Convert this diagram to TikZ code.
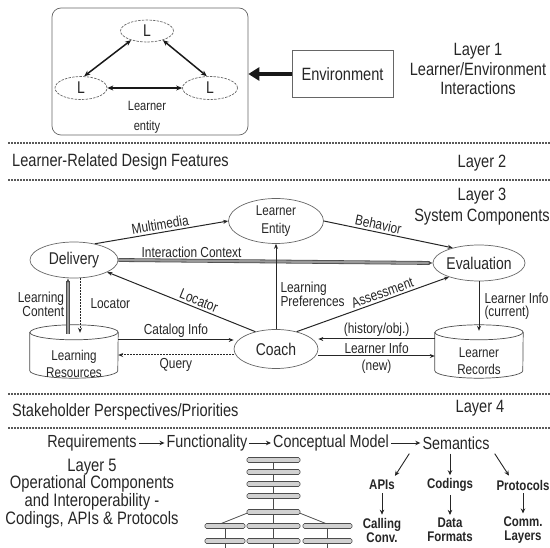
\documentclass[tikz,border=0pt]{standalone}
\usepackage{fontspec}
\setmainfont{Liberation Sans}[FakeStretch=0.82]
\usetikzlibrary{shapes.geometric,arrows.meta}
\newcommand\fsz[2]{\fontsize{#1}{#2}\selectfont}
\newcommand\drawcyl[1]{%
  \draw[draw=black!70, line width=0.7pt, fill=white]
    ([yshift=-7.5pt]#1.north west) -- ([yshift=7.5pt]#1.south west)
    arc[start angle=180, end angle=360, x radius=44pt, y radius=7.5pt]
    -- ([yshift=-7.5pt]#1.north east)
    arc[start angle=0, end angle=180, x radius=44pt, y radius=7.5pt] -- cycle;
  \draw[draw=black!70, line width=0.7pt]
    ([yshift=-7.5pt]#1.north west)
    arc[start angle=180, end angle=360, x radius=44pt, y radius=7.5pt];}
\begin{document}
\begin{tikzpicture}[x=1pt,y=-1pt,
  >={Stealth[length=5pt,width=4pt]},
  every node/.style={text=black!85},
  txt/.style={inner sep=0pt, align=center},
  big/.style={txt, font=\fsz{17.8}{20}},
  lbl/.style={txt, font=\fsz{14.5}{14}},
  ell/.style={ellipse, draw=black!60, line width=0.7pt, inner sep=0pt, align=center, font=\fsz{17}{19}},
  lell/.style={ell, dash pattern=on 2.5pt off 1.2pt},
  conn/.style={draw=black!85, line width=1pt},
  dconn/.style={conn, dash pattern=on 1.6pt off 1.4pt},
  gconn/.style={draw=black!70, line width=0.8pt, double=black!40, double distance=2.2pt},
  l1arr/.style={draw=black!90, line width=1.5pt, {Stealth[length=6pt,width=5pt]}-{Stealth[length=6pt,width=5pt]}},
  sepline/.style={draw=black!65, line width=1.6pt, dash pattern=on 1.5pt off 1.5pt},
  bar/.style={draw=black!70, fill=black!18, line width=0.6pt, rounded corners=1.5pt},
  bsm/.style={txt, font=\fsz{14}{14}\bfseries},
  seq/.style={txt, inner sep=2pt, font=\fsz{17.5}{20}},
  tarr/.style={draw=black!85, line width=0.9pt, ->, >={Stealth[length=5pt,width=4.5pt]}},
]
\useasboundingbox (0,0) rectangle (550,548);

% ---------------- Layer 1
\node[draw=black!60, line width=0.7pt, rounded corners=9pt, minimum width=196pt, minimum height=127pt] (l1box) at (150,71.5) {};
\node[lell, minimum width=53pt, minimum height=22pt] (Ltop) at (147,31) {L};
\node[lell, minimum width=52pt, minimum height=23pt] (Lleft) at (81,88) {L};
\node[lell, minimum width=55pt, minimum height=23pt] (Lright) at (210,88) {L};
\draw[l1arr] (Lleft.75) -- (Ltop.210);
\draw[l1arr] (Lright.105) -- (Ltop.330);
\draw[l1arr] (Lleft.east) -- (Lright.west);
\node[txt, font=\fsz{13.5}{19.5}] (lent) at (147,117.5) {Learner\\entity};
\node[draw=black!60, line width=0.7pt, minimum width=101pt, minimum height=47pt, font=\fsz{17.8}{20}] (env) at (342.5,74) {Environment};
\draw[draw=black!90, line width=4.5pt, -{Triangle[length=11pt,width=13pt]}] (env.west) -- (l1box.east |- env.west);
\node[big, font=\fsz{17.8}{19.5}] (l1txt) at (478,69) {Layer 1\\Learner/Environment\\Interactions};

% ---------------- Layer 2
\draw[sepline] (8,143) -- (550,143);
\node[big, anchor=west] (l2txt) at (12,162) {Learner-Related Design Features};
\node[big] (l2) at (482,163) {Layer 2};
\draw[sepline] (8,180) -- (550,180);

% ---------------- Layer 3
\node[big, font=\fsz{17.8}{21}] (l3) at (482,207) {Layer 3\\System Components};
\node[ell, minimum width=95pt, minimum height=45pt, font=\fsz{14.2}{18}] (entity) at (276,221) {Learner\\Entity};
\node[ell, minimum width=88pt, minimum height=36pt] (delivery) at (74,260) {Delivery};
\node[ell, minimum width=87pt, minimum height=36pt] (evaluation) at (479,263) {Evaluation};
\node[ell, minimum width=84pt, minimum height=39pt] (coach) at (276,349) {Coach};
\node[minimum width=88pt, minimum height=53pt, inner sep=0pt] (lres) at (74,351.5) {};
\node[minimum width=88pt, minimum height=53pt, inner sep=0pt] (lrec) at (479,351.5) {};
\drawcyl{lres}
\drawcyl{lrec}
\node[txt, font=\fsz{14.2}{17}] (lrest) at (74,363.5) {Learning\\Resources};
\node[txt, font=\fsz{14.2}{17}] (lrect) at (479,361.5) {Learner\\Records};

\draw[conn, ->] (delivery.38) -- node[lbl, sloped, above=2pt] {Multimedia} (entity.west);
\draw[conn, ->] (entity.east) -- node[lbl, sloped, above=2pt, pos=0.41] {Behavior} (evaluation.150);
\draw[gconn, ->] (delivery.east) -- node[lbl, above=2.5pt, pos=0.233] {Interaction Context} (evaluation.west);
\draw[conn, ->] (coach.north) -- node[lbl, right=4pt, pos=0.41, align=left, font=\fsz{14.5}{12.5}] {Learning\\Preferences} (entity.south);
\draw[conn, <-] (delivery.340) -- node[lbl, sloped, above=2pt, pos=0.6] {Locator} (coach.140);
\draw[conn, ->] (coach.40) -- node[lbl, sloped, above=2pt, pos=0.58] {Assessment} (evaluation.205);
\draw[gconn, ->] ([xshift=-6pt,yshift=-9pt]lres.north) -- node[lbl, left=3.5pt, pos=0.54, align=right] {Learning\\Content} ([xshift=-6pt]delivery.south);
\draw[dconn, ->] ([xshift=6pt]delivery.south) -- node[lbl, right=10pt, pos=0.47] {Locator} ([xshift=6pt,yshift=-8pt]lres.north);
\draw[conn, ->] ([yshift=11.5pt]lres.east) -- node[lbl, above=2pt] {Catalog Info} ([yshift=9pt]coach.west);
\draw[dconn, ->] ([yshift=-6pt]coach.west) -- node[lbl, below=3pt] {Query} ([yshift=-3.5pt]lres.east);
\draw[conn, ->] ([yshift=12.5pt]lrec.west) -- node[lbl, above=2pt] {(history/obj.)} ([yshift=10pt]coach.east);
\draw[conn, ->] ([yshift=-7pt]coach.east) -- node[lbl, above=2pt] {Learner Info} node[lbl, below=3pt] {(new)} ([yshift=-4.5pt]lrec.west);
\draw[conn, ->] (evaluation.south) -- node[lbl, right=5pt, pos=0.51, align=left, font=\fsz{14.5}{13}] {Learner Info\\(current)} ([yshift=-6pt]lrec.north);

% ---------------- Layer 4
\draw[sepline] (8,394) -- (550,394);
\node[big, anchor=west] (l4txt) at (12,412) {Stakeholder Perspectives/Priorities};
\node[big] (l4) at (480,408) {Layer 4};
\draw[sepline] (8,428) -- (550,428);

% ---------------- Layer 5
\node[seq] (req) at (92,443) {Requirements};
\node[seq] (func) at (207,443) {Functionality};
\node[seq] (cm) at (331,443) {Conceptual Model};
\node[seq] (sem) at (456,443) {Semantics};
\draw[tarr] (req) -- (func);
\draw[tarr] (func) -- (cm);
\draw[tarr] (cm) -- (sem);
\node[txt, font=\fsz{18}{17.7}] (l5txt) at (92,493.5) {Layer 5\\Operational Components\\and Interoperability -\\Codings, APIs \& Protocols};

\node[bsm] (apis) at (382,485) {APIs};
\node[bsm] (codings) at (450,485) {Codings};
\node[bsm] (protocols) at (523,485) {Protocols};
\node[bsm] (callc) at (382,530) {Calling\\Conv.};
\node[bsm] (dataf) at (450,530) {Data\\Formats};
\node[bsm] (comml) at (523,530) {Comm.\\Layers};
\draw[tarr] ([xshift=-11pt,yshift=-2pt]sem.south west) -- ([yshift=4pt]apis.north east);
\draw[tarr] ([yshift=-2pt]sem.south -| codings.north) -- ([yshift=3pt]codings.north);
\draw[tarr] ([xshift=3pt,yshift=-2pt]sem.south east) -- ([xshift=-14pt,yshift=4pt]protocols.north);
\draw[tarr, shorten <=3pt, shorten >=3pt] (apis.south) -- (callc.north);
\draw[tarr, shorten <=3pt, shorten >=3pt] (codings.south) -- (dataf.north);
\draw[tarr, shorten <=3pt, shorten >=3pt] (protocols.south) -- (comml.north);

% stacked bars
\draw[black!70, line width=0.8pt] (273.5,460) -- (273.5,548);
\draw[black!70, line width=0.8pt] (225,526) -- (225,548);
\draw[black!70, line width=0.8pt] (327,526) -- (327,548);
\draw[black!70, line width=0.8pt] (250,512) -- (220,524);
\draw[black!70, line width=0.8pt] (297,512) -- (327,524);
\foreach \yy in {460,472,484,496,512,526,541}
  \draw[bar] (247,\yy-2.5) rectangle (300,\yy+2.5);
\foreach \yy in {526,541} {
  \draw[bar] (205,\yy-2.5) rectangle (245,\yy+2.5);
  \draw[bar] (303,\yy-2.5) rectangle (352,\yy+2.5);
}
\end{tikzpicture}
\end{document}
